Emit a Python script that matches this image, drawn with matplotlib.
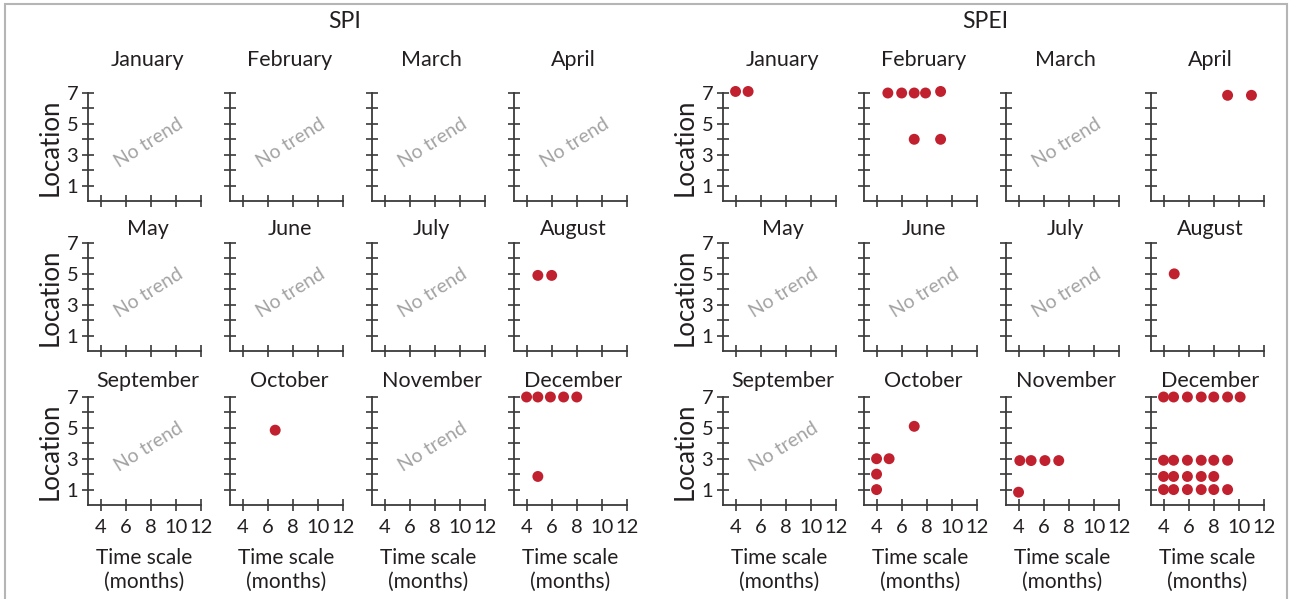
import matplotlib
matplotlib.use("Agg")
import matplotlib.pyplot as plt
from matplotlib.patches import Rectangle

plt.rcParams['font.family'] = ['Lato', 'DejaVu Sans']

months = ["January", "February", "March", "April", "May", "June",
          "July", "August", "September", "October", "November", "December"]

# SPI trends: month, time scale (months), location
spi_month = ["August", "August", "October",
             "December", "December", "December", "December", "December", "December"]
spi_scale = [4.9, 6.0, 6.6, 4.0, 4.9, 5.9, 6.95, 8.0, 4.9]
spi_loc = [4.9, 4.9, 4.85, 7.0, 7.0, 7.0, 7.0, 7.0, 1.85]

# SPEI trends
spei_month = (["January"] * 2 + ["February"] * 7 + ["April"] * 2 + ["August"]
              + ["October"] * 5 + ["November"] * 5 + ["December"] * 25)
spei_scale = [4.0, 5.0,
              4.9, 6.0, 7.0, 7.9, 9.1, 7.0, 9.1,
              9.1, 11.0,
              4.85,
              4.0, 5.0, 4.0, 4.0, 7.0,
              4.1, 5.0, 6.1, 7.2, 4.0,
              4.0, 4.8, 5.9, 7.0, 8.0, 9.1, 10.1,
              4.0, 4.8, 5.9, 7.0, 8.0, 9.1,
              4.0, 4.8, 5.9, 7.0, 8.0,
              4.0, 4.8, 5.9, 7.0, 8.0, 9.1]
spei_loc = [7.1, 7.1,
            7.0, 7.0, 7.0, 7.0, 7.1, 4.0, 4.0,
            6.85, 6.85,
            5.0,
            3.0, 3.0, 2.0, 1.0, 5.1,
            2.88, 2.88, 2.88, 2.88, 0.83,
            7.0, 7.0, 7.0, 7.0, 7.0, 7.0, 7.0,
            2.9, 2.9, 2.9, 2.9, 2.9, 2.9,
            1.85, 1.85, 1.85, 1.85, 1.85,
            1.0, 1.0, 1.0, 1.0, 1.0, 1.0]

x_ticks = [4, 6, 8, 10, 12]
y_ticks = [1, 2, 3, 4, 5, 6, 7]
y_ticklabels = ["1", "", "3", "", "5", "", "7"]

W, H = 1292, 599
fig = plt.figure(figsize=(W / 100, H / 100), dpi=100)

dot_color = "#c1202e"
ink = "#231f20"
axis_col = "#3a3a3a"

group_lefts = {"SPI": [88, 230, 372, 514], "SPEI": [723, 864, 1006, 1151]}
row_tops = [93, 243, 397]
ax_w, ax_h = 113, 108
title_y = [60, 229, 381]

groups = [("SPI", spi_month, spi_scale, spi_loc, 345),
          ("SPEI", spei_month, spei_scale, spei_loc, 985)]

for name, g_month, g_scale, g_loc, gx in groups:
    fig.text(gx / W, 1 - 22 / H, name, ha="center", va="center",
             fontsize=16.5, color=ink)
    for i, m in enumerate(months):
        r, c = divmod(i, 4)
        left = group_lefts[name][c]
        top = row_tops[r]
        ax = fig.add_axes([left / W, 1 - (top + ax_h) / H, ax_w / W, ax_h / H])
        ax.set_xlim(3, 12)
        ax.set_ylim(0, 7)
        for s in ["top", "right"]:
            ax.spines[s].set_visible(False)
        for s in ["left", "bottom"]:
            ax.spines[s].set_color(axis_col)
            ax.spines[s].set_linewidth(1.3)
        ax.set_xticks(x_ticks)
        ax.set_yticks(y_ticks)
        ax.tick_params(direction="inout", length=8, width=1.2, color=axis_col,
                       labelsize=14.5, labelcolor=ink)
        ax.tick_params(axis="x", pad=6)
        ax.tick_params(axis="y", pad=3)
        if c == 0:
            ax.set_yticklabels(y_ticklabels)
            ax.set_ylabel("Location", fontsize=18.5, color=ink, labelpad=3)
        else:
            ax.set_yticklabels([])
        if r == 2:
            ax.set_xlabel("Time scale\n(months)", fontsize=15, color=ink,
                          labelpad=9, linespacing=1.2)
        else:
            ax.set_xticklabels([])

        xs = [x for mm, x in zip(g_month, g_scale) if mm == m]
        ys = [y for mm, y in zip(g_month, g_loc) if mm == m]
        if xs:
            ax.scatter(xs, ys, s=62, color=dot_color, edgecolors="none",
                       clip_on=False, zorder=3)
        else:
            ax.text(7.8, 3.75, "No trend", rotation=32, ha="center", va="center",
                    fontsize=14, color="#a3a3a3")

        fig.text((left + ax_w / 2 + 3) / W, 1 - title_y[r] / H, m,
                 ha="center", va="center", fontsize=15.5, color=ink)

# light frame around the figure
fig.patches.append(Rectangle((5 / W, -0.05), (1287 - 5) / W, 1.05 - 4 / H,
                             transform=fig.transFigure, fill=False,
                             edgecolor="#b5b5b5", linewidth=1.5))

fig.savefig("out.png", dpi=100, facecolor="white")
